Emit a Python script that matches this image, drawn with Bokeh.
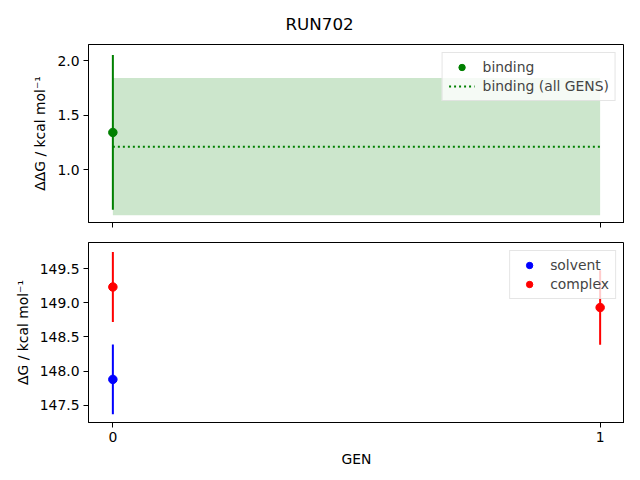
from bokeh.plotting import figure
from bokeh.layouts import column
from bokeh.models import Range1d, FixedTicker, PrintfTickFormatter
from bokeh.embed import file_html
from bokeh.resources import INLINE

title_text = "RUN702"
gen_ticks = [0, 1]
binding_gens = [0]
binding_dg = [1.34]
binding_err = [0.71]
all_gens_x = [0, 1]
binding_all = 1.21
binding_all_err = 0.63
solvent_gens = [0]
solvent_dg = [147.88]
solvent_err = [0.51]
complex_gens = [0, 1]
complex_dg = [149.23, 148.93]
complex_err = [0.51, 0.545]

FONT = "DejaVu Sans"
FS = "13.9px"


def style(p):
    p.grid.visible = False
    p.outline_line_color = "black"
    p.outline_line_alpha = 1
    for ax in p.xaxis + p.yaxis:
        ax.axis_line_color = "black"
        ax.major_tick_line_color = "black"
        ax.minor_tick_line_color = None
        ax.major_tick_in = 0
        ax.major_tick_out = 5
        ax.major_label_standoff = 4
        ax.major_label_text_font = FONT
        ax.major_label_text_font_size = FS
        ax.major_label_text_color = "black"
        ax.axis_label_text_font = FONT
        ax.axis_label_text_font_size = FS
        ax.axis_label_text_font_style = "normal"
        ax.axis_label_text_color = "black"
        ax.axis_label_standoff = 6


def style_legend(p):
    lg = p.legend[0]
    lg.location = "top_right"
    lg.margin = 8
    lg.padding = 6
    lg.spacing = 3
    lg.glyph_width = 26
    lg.glyph_height = 16
    lg.label_height = 16
    lg.label_standoff = 8
    lg.label_text_font = FONT
    lg.label_text_font_size = FS
    lg.border_line_color = "#cccccc"
    lg.background_fill_alpha = 0.8


p1 = figure(frame_width=536, frame_height=178, output_backend="svg",
            toolbar_location=None, min_border_left=88, min_border_right=0,
            min_border_top=44, min_border_bottom=10,
            x_range=Range1d(-0.05, 1.05), y_range=Range1d(0.514, 2.147))
p1.title.text = title_text
p1.title.align = "left"
p1.title.offset = 197
p1.title.text_font = FONT
p1.title.text_font_size = "16.7px"
p1.title.text_font_style = "normal"
p1.title.text_color = "black"
p1.title.standoff = 22

lo = binding_all - binding_all_err
hi = binding_all + binding_all_err
p1.varea(x=all_gens_x, y1=[lo] * len(all_gens_x), y2=[hi] * len(all_gens_x),
         fill_color="green", fill_alpha=0.2)
p1.segment(x0=binding_gens, x1=binding_gens,
           y0=[v - e for v, e in zip(binding_dg, binding_err)],
           y1=[v + e for v, e in zip(binding_dg, binding_err)],
           line_color="green", line_width=2)
p1.scatter(binding_gens, binding_dg, size=8.5, color="green", legend_label="binding")
p1.line(all_gens_x, [binding_all] * len(all_gens_x), line_color="green",
        line_width=2, line_dash="2 3", legend_label="binding (all GENS)")
p1.xaxis.ticker = FixedTicker(ticks=gen_ticks)
p1.yaxis.ticker = FixedTicker(ticks=[1.0, 1.5, 2.0])
p1.yaxis.formatter = PrintfTickFormatter(format="%.1f")
p1.yaxis.axis_label = "ΔΔG / kcal mol⁻¹"
style(p1)
p1.xaxis.major_label_overrides = {t: "" for t in gen_ticks}
p1.xaxis.major_label_standoff = 0
style_legend(p1)

p2 = figure(frame_width=536, frame_height=180, output_backend="svg",
            toolbar_location=None, min_border_left=88, min_border_right=0,
            min_border_top=10, min_border_bottom=42,
            x_range=p1.x_range, y_range=Range1d(147.25, 149.88))
p2.segment(x0=solvent_gens, x1=solvent_gens,
           y0=[v - e for v, e in zip(solvent_dg, solvent_err)],
           y1=[v + e for v, e in zip(solvent_dg, solvent_err)],
           line_color="blue", line_width=2)
p2.segment(x0=complex_gens, x1=complex_gens,
           y0=[v - e for v, e in zip(complex_dg, complex_err)],
           y1=[v + e for v, e in zip(complex_dg, complex_err)],
           line_color="red", line_width=2)
p2.scatter(solvent_gens, solvent_dg, size=8.5, color="blue", legend_label="solvent")
p2.scatter(complex_gens, complex_dg, size=8.5, color="red", legend_label="complex")
p2.xaxis.ticker = FixedTicker(ticks=gen_ticks)
p2.yaxis.ticker = FixedTicker(ticks=[147.5, 148.0, 148.5, 149.0, 149.5])
p2.yaxis.formatter = PrintfTickFormatter(format="%.1f")
p2.yaxis.axis_label = "ΔG / kcal mol⁻¹"
p2.xaxis.axis_label = "GEN"
style(p2)
style_legend(p2)

layout = column(p1, p2, spacing=0)
open("out.html", "w").write(file_html(layout, INLINE))
